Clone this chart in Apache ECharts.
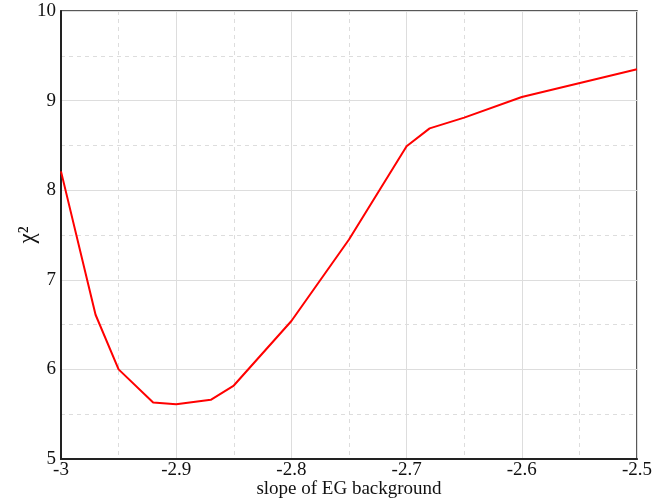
<!DOCTYPE html>
<html>
<head>
<meta charset="utf-8">
<script src="https://cdn.jsdelivr.net/npm/echarts@6/dist/echarts.min.js"></script>
<style>
  html, body { margin: 0; padding: 0; background: #fff; }
  #chart { width: 652px; height: 502px; }
</style>
</head>
<body>
<div id="chart"></div>
<script>
// Chi-square scan over the slope of the EG background
const slopes = [-3.0, -2.97, -2.95, -2.92, -2.90, -2.87, -2.85, -2.80, -2.75, -2.70, -2.68, -2.65, -2.60, -2.50];
const chi2   = [8.21, 6.61, 6.00, 5.63, 5.61, 5.66, 5.82, 6.54, 7.45, 8.49, 8.69, 8.81, 9.04, 9.35];

const xName = 'slope of EG background';
const yName = 'χ²';

const serif = '"Liberation Serif", "Times New Roman", serif';

const chart = echarts.init(document.getElementById('chart'), null, { renderer: 'canvas' });

const fmt = v => String(parseFloat(Number(v).toFixed(2)));

chart.setOption({
  animation: false,
  backgroundColor: '#fff',
  grid: {
    left: 61, right: 15, top: 11, bottom: 43,
    outerBoundsMode: 'none',
    containLabel: false,
    show: true, borderColor: '#222', borderWidth: 1.5, backgroundColor: 'transparent'
  },
  xAxis: {
    type: 'value',
    min: -3, max: -2.5, interval: 0.1,
    name: xName,
    nameLocation: 'middle',
    nameMoveOverlap: false,
    nameGap: 21,
    nameTextStyle: { fontFamily: serif, fontSize: 19, color: '#111' },
    axisLine: { show: true, onZero: false, lineStyle: { color: '#222', width: 2 } },
    axisTick: { show: false },
    axisLabel: { fontFamily: serif, fontSize: 19, color: '#111', margin: 2, formatter: fmt },
    splitLine: { show: true, lineStyle: { color: '#dddddd', width: 1 } },
    minorTick: { show: false, splitNumber: 2 },
    minorSplitLine: { show: true, lineStyle: { color: '#dddddd', width: 1, type: [4, 4] } }
  },
  yAxis: {
    type: 'value',
    min: 5, max: 10, interval: 1,
    name: yName,
    nameLocation: 'middle',
    nameMoveOverlap: false,
    nameRotate: 90,
    nameGap: 22,
    nameTextStyle: { fontFamily: serif, fontSize: 23, color: '#111' },
    axisLine: { show: true, onZero: false, lineStyle: { color: '#222', width: 2 } },
    axisTick: { show: false },
    axisLabel: { fontFamily: serif, fontSize: 19, color: '#111', margin: 5, formatter: fmt },
    splitLine: { show: true, lineStyle: { color: '#dddddd', width: 1 } },
    minorTick: { show: false, splitNumber: 2 },
    minorSplitLine: { show: true, lineStyle: { color: '#dddddd', width: 1, type: [4, 4] } }
  },
  series: [{
    type: 'line',
    data: slopes.map((s, i) => [s, chi2[i]]),
    showSymbol: false,
    symbol: 'none',
    lineStyle: { color: '#ff0000', width: 2 },
    clip: true
  }]
});
</script>
</body>
</html>
